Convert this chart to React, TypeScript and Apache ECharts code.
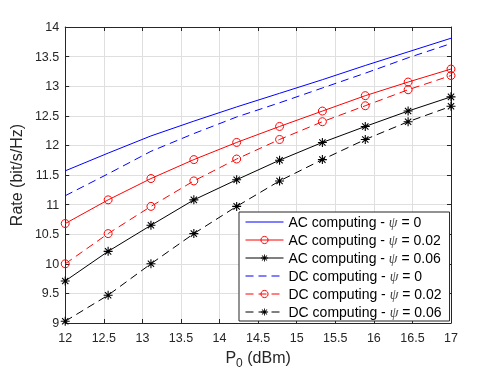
import React, { useEffect, useRef } from "react";
import * as echarts from "echarts";

const xValues = [12, 12.556, 13.111, 13.667, 14.222, 14.778, 15.333, 15.889, 16.444, 17];

const acPsi0 = [11.57, 11.87, 12.16, 12.41, 12.65, 12.88, 13.11, 13.35, 13.58, 13.81];
const acPsi002 = [10.68, 11.08, 11.44, 11.76, 12.05, 12.32, 12.58, 12.84, 13.07, 13.29];
const acPsi006 = [9.71, 10.21, 10.65, 11.08, 11.42, 11.75, 12.05, 12.32, 12.58, 12.82];
const dcPsi0 = [11.15, 11.52, 11.9, 12.2, 12.48, 12.72, 12.97, 13.22, 13.48, 13.72];
const dcPsi002 = [10.0, 10.51, 10.97, 11.4, 11.77, 12.1, 12.4, 12.67, 12.94, 13.18];
const dcPsi006 = [9.03, 9.47, 10.0, 10.51, 10.97, 11.4, 11.76, 12.1, 12.4, 12.66];

const seriesNames = [
  "AC computing - ψ = 0",
  "AC computing - ψ = 0.02",
  "AC computing - ψ = 0.06",
  "DC computing - ψ = 0",
  "DC computing - ψ = 0.02",
  "DC computing - ψ = 0.06",
];

const STAR =
  "path://M-0.6,-5L0.6,-5L0.6,5L-0.6,5Z" +
  "M-5,-0.6L5,-0.6L5,0.6L-5,0.6Z" +
  "M-3.08,-3.92L3.92,3.08L3.08,3.92L-3.92,-3.08Z" +
  "M-3.92,3.08L3.08,-3.92L3.92,-3.08L-3.08,3.92Z";
const FONT = "'Liberation Sans', Arial, sans-serif";
const AXIS = "#262626";

function pairs(ys: number[]) {
  return ys.map((y, i) => [xValues[i], y]);
}

export default function App() {
  const ref = useRef<HTMLDivElement>(null);
  useEffect(() => {
    if (!ref.current) return;
    const chart = echarts.init(ref.current, null, { renderer: "svg" });
    const mk = (
      name: string,
      data: number[],
      color: string,
      dashed: boolean,
      symbol: string
    ) => ({
      name,
      type: "line",
      data: pairs(data),
      symbol: symbol === "none" ? "circle" : symbol,
      symbolSize: symbol === "circle" ? 8 : 9,
      showSymbol: symbol !== "none",
      lineStyle: { color, width: 1, type: dashed ? [8, 5] : "solid" },
      itemStyle:
        symbol === STAR
          ? { color, borderWidth: 0 }
          : symbol === "circle"
          ? { color: "rgba(255,255,255,0)", borderColor: color, borderWidth: 1 }
          : { color },
      emphasis: { disabled: true },
      z: 3,
    });
    const legendData = seriesNames.map((n, i) =>
      i === 0 || i === 3
        ? { name: n, itemStyle: { opacity: 0 } }
        : i === 2 || i === 5
        ? { name: n, itemStyle: { borderWidth: 0 } }
        : { name: n, itemStyle: { borderWidth: 1 } }
    );
    chart.setOption({
      animation: false,
      grid: { left: 64, right: 47, top: 27, bottom: 50, show: false },
      legend: {
        orient: "vertical",
        left: 239,
        top: 212,
        padding: [3, 8, 2, 6],
        itemGap: 4,
        itemWidth: 38,
        itemHeight: 9,
        backgroundColor: "#fff",
        borderColor: AXIS,
        borderWidth: 1,
        borderRadius: 0,
        lineStyle: { width: 1 },
        data: legendData,
        formatter: (n: string) => n.replace("ψ", "{psi|ψ}"),
        textStyle: {
          fontFamily: FONT,
          fontSize: 14,
          color: "#000",
          lineHeight: 14,
          rich: {
            psi: {
              fontFamily: "'Liberation Serif', 'DejaVu Serif', serif",
              fontStyle: "italic",
              fontSize: 14,
              color: "#444",
            },
          },
        },
      },
      xAxis: [
        {
          type: "value",
          min: 12,
          max: 17,
          interval: 0.5,
          position: "bottom",
          name: "P{sub|0} (dBm)",
          nameLocation: "middle",
          nameGap: 22,
          nameTextStyle: {
            fontFamily: FONT,
            fontSize: 16,
            color: AXIS,
            rich: { sub: { fontFamily: FONT, fontSize: 12, color: AXIS, verticalAlign: "bottom", padding: [12, 0, 0, 0] } },
          },
          axisLine: { show: true, lineStyle: { color: AXIS, width: 1 } },
          axisTick: { show: true, inside: true, length: 4, lineStyle: { color: AXIS } },
          axisLabel: { fontFamily: FONT, fontSize: 12.5, color: AXIS, margin: 8 },
          splitLine: { show: true, lineStyle: { color: "#dfdfdf", width: 1 } },
        },
        {
          type: "value",
          min: 12,
          max: 17,
          interval: 0.5,
          position: "top",
          axisLine: { show: true, lineStyle: { color: AXIS, width: 1 } },
          axisTick: { show: true, inside: true, length: 4, lineStyle: { color: AXIS } },
          axisLabel: { show: false },
          splitLine: { show: false },
        },
      ],
      yAxis: [
        {
          type: "value",
          min: 9,
          max: 14,
          interval: 0.5,
          position: "left",
          name: "Rate (bit/s/Hz)",
          nameLocation: "middle",
          nameGap: 33,
          nameTextStyle: { fontFamily: FONT, fontSize: 16, color: AXIS },
          axisLine: { show: true, lineStyle: { color: AXIS, width: 1 } },
          axisTick: { show: true, inside: true, length: 4, lineStyle: { color: AXIS } },
          axisLabel: { fontFamily: FONT, fontSize: 12.5, color: AXIS, margin: 6 },
          splitLine: { show: true, lineStyle: { color: "#dfdfdf", width: 1 } },
        },
        {
          type: "value",
          min: 9,
          max: 14,
          interval: 0.5,
          position: "right",
          axisLine: { show: true, lineStyle: { color: AXIS, width: 1 } },
          axisTick: { show: true, inside: true, length: 4, lineStyle: { color: AXIS } },
          axisLabel: { show: false },
          splitLine: { show: false },
        },
      ],
      series: [
        mk(seriesNames[0], acPsi0, "#0000ff", false, "none"),
        mk(seriesNames[1], acPsi002, "#ff0000", false, "circle"),
        mk(seriesNames[2], acPsi006, "#000000", false, STAR),
        mk(seriesNames[3], dcPsi0, "#0000ff", true, "none"),
        mk(seriesNames[4], dcPsi002, "#ff0000", true, "circle"),
        mk(seriesNames[5], dcPsi006, "#000000", true, STAR),
      ],
    });
    return () => chart.dispose();
  }, []);
  return (
    <div
      ref={ref}
      style={{ position: "fixed", left: 0, top: 0, width: 498, height: 374 }}
    />
  );
}
